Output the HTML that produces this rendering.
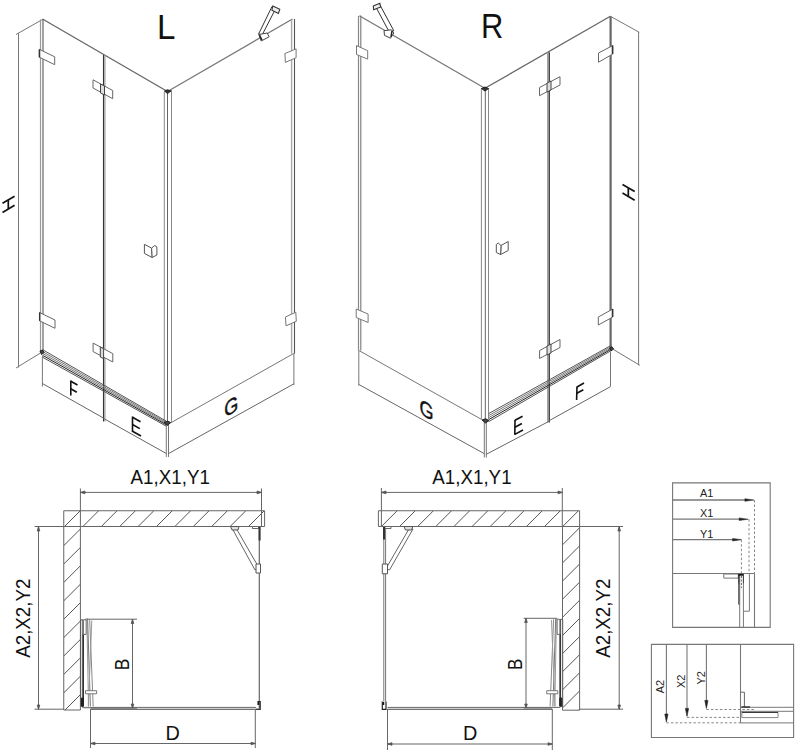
<!DOCTYPE html>
<html><head><meta charset="utf-8"><style>
html,body{margin:0;padding:0;background:#fff;}
body{width:800px;height:752px;overflow:hidden;}
svg{display:block;font-family:"Liberation Sans",sans-serif;}
</style></head><body>
<svg width="800" height="752" viewBox="0 0 800 752">
<rect width="800" height="752" fill="#fff"/>
<g id="Liso" fill="none" stroke-linecap="butt">
<line x1="18.5" y1="33" x2="18.5" y2="367.5" stroke="#777" stroke-width="1"/>
<line x1="16" y1="34.5" x2="42.5" y2="19.5" stroke="#777" stroke-width="1"/>
<line x1="16" y1="368" x2="40.5" y2="353" stroke="#777" stroke-width="1"/>
<line x1="40.5" y1="19.5" x2="40.5" y2="353" stroke="#999" stroke-width="1.2"/>
<line x1="43" y1="19" x2="43" y2="350" stroke="#666" stroke-width="1.2"/>
<line x1="42.5" y1="19" x2="167.5" y2="91.5" stroke="#666" stroke-width="1.3"/>
<line x1="103.6" y1="55" x2="103.6" y2="421.5" stroke="#333" stroke-width="1.3"/>
<line x1="105" y1="55" x2="105" y2="421.5" stroke="#999" stroke-width="1"/>
<line x1="164.3" y1="91.5" x2="164.3" y2="423" stroke="#888" stroke-width="1"/>
<line x1="167.5" y1="92" x2="167.5" y2="423" stroke="#666" stroke-width="1"/>
<line x1="171.5" y1="90" x2="171.5" y2="422" stroke="#888" stroke-width="1"/>
<line x1="167.5" y1="91.5" x2="292.5" y2="19" stroke="#777" stroke-width="1.3"/>
<line x1="291.6" y1="19.5" x2="291.6" y2="353.5" stroke="#aaa" stroke-width="1.4"/>
<line x1="294.5" y1="19" x2="294.5" y2="353.5" stroke="#555" stroke-width="1.1"/>
<line x1="293.9" y1="353" x2="293.9" y2="385" stroke="#777" stroke-width="1"/>
<line x1="168.7" y1="424" x2="293.9" y2="353.4" stroke="#777" stroke-width="1"/>
<line x1="42.5" y1="349.6" x2="166.3" y2="421.2" stroke="#555" stroke-width="1"/>
<line x1="42.5" y1="351.5" x2="166.3" y2="422.4" stroke="#777" stroke-width="1"/>
<line x1="42.5" y1="353.4" x2="166.3" y2="423.6" stroke="#777" stroke-width="1"/>
<line x1="42.5" y1="355.3" x2="166.3" y2="424.8" stroke="#222" stroke-width="1"/>
<line x1="42.5" y1="357.2" x2="166.3" y2="426.2" stroke="#555" stroke-width="1"/>
<line x1="42.4" y1="356" x2="42.4" y2="386.5" stroke="#777" stroke-width="1"/>
<line x1="42.4" y1="383.5" x2="104.3" y2="418.5" stroke="#666" stroke-width="1"/>
<line x1="104.3" y1="418.8" x2="166.3" y2="453.5" stroke="#666" stroke-width="1"/>
<line x1="166.3" y1="424.5" x2="166.3" y2="457" stroke="#777" stroke-width="1"/>
<line x1="168.5" y1="424.5" x2="168.5" y2="457" stroke="#777" stroke-width="1"/>
<line x1="168.7" y1="453.5" x2="293.9" y2="383.8" stroke="#666" stroke-width="1"/>
<path d="M39.3,49.3 L54.7,56.8 L54.7,64.7 L39.3,57.2 Z" stroke="#666" stroke-width="1" fill="#fff"/>
<line x1="39.5" y1="49.5" x2="39.5" y2="57.5" stroke="#333" stroke-width="1.5"/>
<path d="M39.5,312.5 L55,320 L55,328.3 L39.5,320.8 Z" stroke="#666" stroke-width="1" fill="#fff"/>
<line x1="39.7" y1="312.5" x2="39.7" y2="320.8" stroke="#333" stroke-width="1.5"/>
<path d="M93,79.8 L112.7,90.5 L112.7,98.7 L93,88 Z" stroke="#666" stroke-width="1" fill="#fff"/>
<path d="M100.5,84 L104.5,86 L104.5,95 L100.5,93 Z" stroke="#444" stroke-width="1" fill="#ddd"/>
<path d="M93.1,343.1 L112.8,353.6 L112.8,362 L93.1,351.6 Z" stroke="#666" stroke-width="1" fill="#fff"/>
<path d="M100.3,347 L103.6,348.7 L103.6,358.6 L100.3,357 Z" stroke="#444" stroke-width="1" fill="#ddd"/>
<path d="M284.9,53.5 L296.1,48.9 L296.1,57.7 L285.4,62.4 Z" stroke="#777" stroke-width="1" fill="#fff"/>
<path d="M285.4,317 L295.8,312.2 L296.3,321.3 L286,325.8 Z" stroke="#777" stroke-width="1" fill="#fff"/>
<path d="M144.4,244.3 L151.6,248.1 L152.2,257.5 L144.4,253.4 Z" stroke="#555" stroke-width="1" fill="#fff"/>
<path d="M151.6,248.1 L154.7,245.5 L156.9,246.9 L156.9,255 L152.2,257.5 Z" stroke="#555" stroke-width="1" fill="#fff"/>
<path d="M258.6,34 L272,6.5 L275.6,8.8 L262.1,35 Z" stroke="#333" stroke-width="1" fill="#fff"/>
<path d="M272.8,6 L279.8,9.3 L278.4,13.5 L271.9,10.2 Z" stroke="#333" stroke-width="1.1" fill="#eee"/>
<path d="M258.8,34.5 L267.2,33 L269.1,36.8 L261.2,41 Z" stroke="#444" stroke-width="1" fill="#fff"/>
<line x1="259.5" y1="35" x2="262" y2="40" stroke="#222" stroke-width="1.5"/>
<path d="M164.5,91 L167.5,89.8 L171,91 L167.5,93.5 Z" stroke="#222" stroke-width="1" fill="#333"/>
<path d="M164,422.5 L167.5,421 L170.5,422.5 L167.5,425.5 Z" stroke="#222" stroke-width="1" fill="#444"/>
<path d="M40,351 L42.5,350 L44,352.5 L41.5,354.5 Z" stroke="#222" stroke-width="1" fill="#444"/>
</g>
<g fill="#111" font-family="'Liberation Sans', sans-serif">
<text x="0" y="0" font-size="36" text-anchor="start" transform="matrix(0.92,0,0,1,157.1,38.8)">L</text>
</g>
<g stroke="#111" stroke-width="1.5" fill="none" stroke-linecap="butt">
<line x1="2.5" y1="203.3" x2="14.6" y2="196.2" stroke="#111" stroke-width="1.7"/>
<line x1="2.5" y1="212.4" x2="14.6" y2="205.3" stroke="#111" stroke-width="1.7"/>
<line x1="8.3" y1="199.8" x2="8.3" y2="208.8" stroke="#111" stroke-width="1.7"/>
</g>
<g stroke="#111" stroke-width="1.6" fill="none">
<line x1="70.8" y1="380.5" x2="70.8" y2="395.5" stroke="#111" stroke-width="1.6"/>
<line x1="70.8" y1="381.2" x2="77.5" y2="385" stroke="#111" stroke-width="1.6"/>
<line x1="70.8" y1="388.8" x2="76.8" y2="392.2" stroke="#111" stroke-width="1.6"/>
<line x1="132.5" y1="416.5" x2="132.5" y2="432" stroke="#111" stroke-width="1.6"/>
<line x1="132.5" y1="417.2" x2="140.5" y2="421.7" stroke="#111" stroke-width="1.6"/>
<line x1="132.5" y1="424.5" x2="139.8" y2="428.6" stroke="#111" stroke-width="1.6"/>
<line x1="132.5" y1="431.3" x2="141" y2="436" stroke="#111" stroke-width="1.6"/>
</g>
<g fill="#111" font-family="'Liberation Sans', sans-serif">
<text x="0" y="0" font-size="22" text-anchor="start" transform="matrix(0.82,-0.45,0,1,224.2,417.7)" stroke="#111" stroke-width="0.45">G</text>
</g>
<g id="Riso" fill="none">
<line x1="358.5" y1="16" x2="358.5" y2="350.5" stroke="#888" stroke-width="1.2"/>
<line x1="360.8" y1="15.5" x2="360.8" y2="350.5" stroke="#777" stroke-width="1.1"/>
<line x1="358.8" y1="350.5" x2="358.8" y2="385.5" stroke="#777" stroke-width="1"/>
<line x1="359.3" y1="15.8" x2="484.9" y2="88.3" stroke="#777" stroke-width="1.3"/>
<line x1="481.4" y1="88" x2="481.4" y2="419.5" stroke="#888" stroke-width="1"/>
<line x1="485.3" y1="88.5" x2="485.3" y2="420" stroke="#666" stroke-width="1"/>
<line x1="488.5" y1="88" x2="488.5" y2="419" stroke="#888" stroke-width="1"/>
<line x1="484.3" y1="421" x2="484.3" y2="457.5" stroke="#777" stroke-width="1"/>
<line x1="486.3" y1="421" x2="486.3" y2="457.5" stroke="#777" stroke-width="1"/>
<line x1="484.9" y1="88.3" x2="610.4" y2="16.3" stroke="#666" stroke-width="1.3"/>
<line x1="547.6" y1="52.2" x2="547.6" y2="422.5" stroke="#999" stroke-width="1"/>
<line x1="549.2" y1="52.2" x2="549.2" y2="422.5" stroke="#333" stroke-width="1.4"/>
<line x1="610.6" y1="16.3" x2="610.6" y2="349" stroke="#666" stroke-width="2.2"/>
<line x1="610.4" y1="16.3" x2="639.2" y2="32.3" stroke="#777" stroke-width="1"/>
<line x1="638.6" y1="32" x2="638.6" y2="365.3" stroke="#777" stroke-width="1"/>
<line x1="611.6" y1="348.4" x2="639.8" y2="365.3" stroke="#777" stroke-width="1"/>
<line x1="359.1" y1="350.6" x2="481.5" y2="419.4" stroke="#777" stroke-width="1"/>
<line x1="488.7" y1="413.6" x2="611.5" y2="345.2" stroke="#555" stroke-width="1"/>
<line x1="488.7" y1="415.6" x2="611.5" y2="346.5" stroke="#777" stroke-width="1"/>
<line x1="488.7" y1="417.6" x2="611.5" y2="347.8" stroke="#777" stroke-width="1"/>
<line x1="488.7" y1="419.6" x2="611.5" y2="349.0" stroke="#222" stroke-width="1"/>
<line x1="488.7" y1="421.6" x2="611.5" y2="350.4" stroke="#555" stroke-width="1"/>
<line x1="358.7" y1="384.4" x2="484" y2="453.5" stroke="#666" stroke-width="1"/>
<line x1="486.3" y1="454.3" x2="548.6" y2="421.5" stroke="#666" stroke-width="1"/>
<line x1="548.6" y1="421" x2="610.5" y2="386.6" stroke="#666" stroke-width="1"/>
<line x1="610.5" y1="351.8" x2="610.5" y2="386.6" stroke="#777" stroke-width="1"/>
<path d="M356.5,45.6 L367.7,50.7 L367.7,59.1 L356.5,54.5 Z" stroke="#777" stroke-width="1" fill="#fff"/>
<path d="M356.2,309 L368.1,314 L368.1,322.5 L356.2,317.5 Z" stroke="#777" stroke-width="1" fill="#fff"/>
<path d="M598.5,53 L612.8,45.5 L612.8,54 L598.5,62.2 Z" stroke="#666" stroke-width="1" fill="#fff"/>
<line x1="612.5" y1="45.5" x2="612.5" y2="54" stroke="#333" stroke-width="1.5"/>
<path d="M598.3,317 L612.8,309 L612.8,317 L598.3,325 Z" stroke="#666" stroke-width="1" fill="#fff"/>
<line x1="612.5" y1="309" x2="612.5" y2="317" stroke="#333" stroke-width="1.5"/>
<path d="M539.5,87.5 L560,76.7 L560,85 L539.5,95.7 Z" stroke="#666" stroke-width="1" fill="#fff"/>
<path d="M547,83 L551,81 L551,90 L547,92 Z" stroke="#444" stroke-width="1" fill="#ddd"/>
<path d="M539.6,350.5 L560,339.5 L560,347.5 L539.6,358.5 Z" stroke="#666" stroke-width="1" fill="#fff"/>
<path d="M547,346 L551,344 L551,353 L547,355 Z" stroke="#444" stroke-width="1" fill="#ddd"/>
<path d="M508.2,241.5 L501,245.5 L500.6,254.5 L508.2,250.5 Z" stroke="#555" stroke-width="1" fill="#fff"/>
<path d="M501,245.5 L498.2,243 L496.3,244.5 L496.3,252.5 L500.6,254.5 Z" stroke="#555" stroke-width="1" fill="#fff"/>
<path d="M375.1,5.6 L379.8,4.7 L393.8,30.7 L389.1,31.7 Z" stroke="#333" stroke-width="1" fill="#fff"/>
<path d="M373.3,6 L379.8,3.3 L380.7,7 L373.7,9.8 Z" stroke="#333" stroke-width="1.1" fill="#eee"/>
<path d="M384,30.7 L391.4,29.8 L393.8,33 L390.5,38.2 L384.5,35.4 Z" stroke="#444" stroke-width="1" fill="#fff"/>
<line x1="392" y1="31" x2="391" y2="37" stroke="#222" stroke-width="1.5"/>
<path d="M481.5,88.5 L485,87 L488.5,88.5 L485,91 Z" stroke="#222" stroke-width="1" fill="#333"/>
<path d="M482,420 L485.5,418.8 L489,420.5 L485.5,423 Z" stroke="#222" stroke-width="1" fill="#444"/>
<path d="M609.5,348 L612,346.8 L613.5,349 L611,351 Z" stroke="#222" stroke-width="1" fill="#444"/>
</g>
<g fill="#111" font-family="'Liberation Sans', sans-serif">
<text x="0" y="0" font-size="35.5" text-anchor="start" transform="matrix(0.87,0,0,1,481,37.5)">R</text>
</g>
<g stroke="#111" stroke-width="1.5" fill="none">
<line x1="622.5" y1="184.4" x2="634.7" y2="191.5" stroke="#111" stroke-width="1.7"/>
<line x1="622.5" y1="193.1" x2="634.7" y2="200.3" stroke="#111" stroke-width="1.7"/>
<line x1="628.3" y1="188.2" x2="628.3" y2="196.2" stroke="#111" stroke-width="1.7"/>
<line x1="515" y1="420" x2="514.8" y2="434.8" stroke="#111" stroke-width="1.6"/>
<line x1="515" y1="420.3" x2="522.6" y2="416.2" stroke="#111" stroke-width="1.6"/>
<line x1="514.9" y1="427.3" x2="521.9" y2="423.5" stroke="#111" stroke-width="1.6"/>
<line x1="514.8" y1="434.4" x2="523" y2="430" stroke="#111" stroke-width="1.6"/>
<line x1="577" y1="386.6" x2="576.6" y2="399.9" stroke="#111" stroke-width="1.6"/>
<line x1="577" y1="387" x2="584" y2="383" stroke="#111" stroke-width="1.6"/>
<line x1="576.9" y1="393.3" x2="583.3" y2="389.7" stroke="#111" stroke-width="1.6"/>
</g>
<g fill="#111" font-family="'Liberation Sans', sans-serif">
<text x="0" y="0" font-size="22" text-anchor="start" transform="matrix(0.82,0.45,0,1,419.5,413.8)" stroke="#111" stroke-width="0.45">G</text>
</g>
<defs><clipPath id="cL"><rect x="63.75" y="510.75" width="201" height="15.75"/><rect x="63.75" y="510.75" width="16.65" height="199.25"/></clipPath><clipPath id="cR"><rect x="378.4" y="510.75" width="201.2" height="15.75"/><rect x="562.5" y="510.75" width="17.1" height="199.5"/></clipPath></defs>
<g clip-path="url(#cL)" stroke="#555" stroke-width="1"><line x1="-119" y1="710" x2="80.25" y2="510.75"/><line x1="-100.60000000000002" y1="710" x2="98.64999999999998" y2="510.75"/><line x1="-82.20000000000005" y1="710" x2="117.04999999999995" y2="510.75"/><line x1="-63.80000000000007" y1="710" x2="135.44999999999993" y2="510.75"/><line x1="-45.40000000000009" y1="710" x2="153.8499999999999" y2="510.75"/><line x1="-27.000000000000114" y1="710" x2="172.2499999999999" y2="510.75"/><line x1="-8.600000000000136" y1="710" x2="190.64999999999986" y2="510.75"/><line x1="9.79999999999984" y1="710" x2="209.04999999999984" y2="510.75"/><line x1="28.199999999999818" y1="710" x2="227.44999999999982" y2="510.75"/><line x1="46.599999999999795" y1="710" x2="245.8499999999998" y2="510.75"/><line x1="64.99999999999977" y1="710" x2="264.2499999999998" y2="510.75"/><line x1="83.39999999999975" y1="710" x2="282.64999999999975" y2="510.75"/><line x1="101.79999999999973" y1="710" x2="301.0499999999997" y2="510.75"/><line x1="120.1999999999997" y1="710" x2="319.4499999999997" y2="510.75"/><line x1="138.59999999999968" y1="710" x2="337.8499999999997" y2="510.75"/><line x1="156.99999999999966" y1="710" x2="356.24999999999966" y2="510.75"/><line x1="175.39999999999964" y1="710" x2="374.64999999999964" y2="510.75"/><line x1="193.7999999999996" y1="710" x2="393.0499999999996" y2="510.75"/><line x1="212.1999999999996" y1="710" x2="411.4499999999996" y2="510.75"/><line x1="230.59999999999957" y1="710" x2="429.84999999999957" y2="510.75"/><line x1="248.99999999999955" y1="710" x2="448.24999999999955" y2="510.75"/></g>
<g clip-path="url(#cR)" stroke="#555" stroke-width="1"><line x1="197.69999999999993" y1="710.2" x2="397.15" y2="510.75"/><line x1="215.82999999999993" y1="710.2" x2="415.28" y2="510.75"/><line x1="233.95999999999992" y1="710.2" x2="433.40999999999997" y2="510.75"/><line x1="252.08999999999992" y1="710.2" x2="451.53999999999996" y2="510.75"/><line x1="270.2199999999999" y1="710.2" x2="469.66999999999996" y2="510.75"/><line x1="288.3499999999999" y1="710.2" x2="487.79999999999995" y2="510.75"/><line x1="306.4799999999999" y1="710.2" x2="505.92999999999995" y2="510.75"/><line x1="324.6099999999999" y1="710.2" x2="524.06" y2="510.75"/><line x1="342.74" y1="710.2" x2="542.19" y2="510.75"/><line x1="360.8700000000001" y1="710.2" x2="560.3200000000002" y2="510.75"/><line x1="379.0000000000002" y1="710.2" x2="578.4500000000003" y2="510.75"/><line x1="397.13000000000034" y1="710.2" x2="596.5800000000004" y2="510.75"/><line x1="415.26000000000045" y1="710.2" x2="614.7100000000005" y2="510.75"/><line x1="433.39000000000055" y1="710.2" x2="632.8400000000006" y2="510.75"/><line x1="451.52000000000066" y1="710.2" x2="650.9700000000007" y2="510.75"/><line x1="469.6500000000008" y1="710.2" x2="669.1000000000008" y2="510.75"/><line x1="487.7800000000009" y1="710.2" x2="687.2300000000009" y2="510.75"/><line x1="505.910000000001" y1="710.2" x2="705.360000000001" y2="510.75"/><line x1="524.0400000000011" y1="710.2" x2="723.4900000000011" y2="510.75"/><line x1="542.1700000000012" y1="710.2" x2="741.6200000000013" y2="510.75"/><line x1="560.3000000000013" y1="710.2" x2="759.7500000000014" y2="510.75"/><line x1="578.4300000000014" y1="710.2" x2="777.8800000000015" y2="510.75"/></g>
<g fill="none">
<path d="M63.75,710 L63.75,510.75 L264.6,510.75 L264.6,526.5 L80.4,526.5 L80.4,710" stroke="#666" stroke-width="1" fill="none"/>
<line x1="63.75" y1="710" x2="80.4" y2="710" stroke="#666" stroke-width="1"/>
<line x1="63.75" y1="526.5" x2="80.4" y2="526.5" stroke="#666" stroke-width="1"/>
<line x1="80.4" y1="492.4" x2="261.5" y2="492.4" stroke="#666" stroke-width="1"/>
<line x1="80.4" y1="488.5" x2="80.4" y2="526.5" stroke="#666" stroke-width="1"/>
<line x1="261.5" y1="488.5" x2="261.5" y2="526.5" stroke="#666" stroke-width="1"/>
<path d="M80.4,492.4 L85,491 L85,493.8 Z" stroke="#555" stroke-width="0.8" fill="#555"/>
<path d="M261.5,492.4 L257,491 L257,493.8 Z" stroke="#555" stroke-width="0.8" fill="#555"/>
<line x1="34.5" y1="526.5" x2="63.75" y2="526.5" stroke="#666" stroke-width="1"/>
<line x1="34.5" y1="709.2" x2="63.75" y2="709.2" stroke="#666" stroke-width="1"/>
<line x1="38.5" y1="526.5" x2="38.5" y2="709.2" stroke="#666" stroke-width="1"/>
<path d="M38.5,526.5 L37.2,531 L39.8,531 Z" stroke="#555" stroke-width="0.8" fill="#555"/>
<path d="M38.5,709.2 L37.2,705 L39.8,705 Z" stroke="#555" stroke-width="0.8" fill="#555"/>
<line x1="259.3" y1="526.5" x2="259.3" y2="708.5" stroke="#666" stroke-width="1.2"/>
<path d="M252.4,526.5 L258.5,526.5 L258.5,528.5 L252.4,528.5 Z" stroke="#666" stroke-width="1" fill="#fff"/>
<line x1="259.6" y1="527" x2="259.6" y2="540.5" stroke="#333" stroke-width="2"/>
<path d="M232.5,529 L236,528 L258.5,567 L255,570 Z" stroke="#666" stroke-width="1" fill="#fff"/>
<path d="M230.5,526.5 L239,526.5 L238,530 L232,530 Z" stroke="#555" stroke-width="1" fill="#ddd"/>
<path d="M256,564 L260.5,564 L260.5,573 L256,573 Z" stroke="#555" stroke-width="1" fill="#fff"/>
<path d="M257.5,701.5 L260.2,701.5 L260.2,709.3 L256,709.3" stroke="#222" stroke-width="1.2" fill="none"/>
<line x1="258.2" y1="702" x2="258.2" y2="705" stroke="#111" stroke-width="1.5"/>
<line x1="82.3" y1="707.4" x2="256" y2="707.4" stroke="#666" stroke-width="1"/>
<line x1="90.5" y1="709.3" x2="260" y2="709.3" stroke="#444" stroke-width="1.1"/>
<line x1="85" y1="619.2" x2="137" y2="619.2" stroke="#666" stroke-width="1"/>
<line x1="90.5" y1="708.2" x2="137" y2="708.2" stroke="#666" stroke-width="1"/>
<line x1="132.5" y1="619.2" x2="132.5" y2="708.2" stroke="#666" stroke-width="1"/>
<path d="M132.5,619.2 L131.2,623.5 L133.8,623.5 Z" stroke="#555" stroke-width="0.8" fill="#555"/>
<path d="M132.5,708.2 L131.2,704 L133.8,704 Z" stroke="#555" stroke-width="0.8" fill="#555"/>
<line x1="90.5" y1="709" x2="90.5" y2="748" stroke="#666" stroke-width="1"/>
<line x1="255.3" y1="709.5" x2="255.3" y2="748" stroke="#666" stroke-width="1"/>
<line x1="90.5" y1="743.5" x2="255.3" y2="743.5" stroke="#666" stroke-width="1"/>
<path d="M90.5,743.5 L95,742.2 L95,744.8 Z" stroke="#555" stroke-width="0.8" fill="#555"/>
<path d="M255.3,743.5 L251,742.2 L251,744.8 Z" stroke="#555" stroke-width="0.8" fill="#555"/>
<path d="M80.6,619.8 L82.8,619.8 L82.8,706.4 L80.6,706.4 Z" stroke="#555" stroke-width="1" fill="#eee"/>
<line x1="83.3" y1="634" x2="83.3" y2="706.4" stroke="#222" stroke-width="1.2"/>
<path d="M83.4,619.8 L86.2,619.8 L86.2,634.4 L83.4,634.4 Z" stroke="#666" stroke-width="1" fill="#fff"/>
<line x1="86.9" y1="619.8" x2="88.5" y2="706.4" stroke="#999" stroke-width="1"/>
<line x1="87.6" y1="618.4" x2="90.4" y2="706.4" stroke="#777" stroke-width="1"/>
<line x1="89.7" y1="619.8" x2="93.2" y2="706.4" stroke="#888" stroke-width="1"/>
<line x1="91.8" y1="620.5" x2="88.3" y2="706.4" stroke="#999" stroke-width="1"/>
<path d="M85.5,690.7 L96.6,690.7 L96.6,693.8 L85.5,693.8 Z" stroke="#777" stroke-width="1" fill="#fff"/>
<line x1="82.7" y1="707.8" x2="90.4" y2="707.8" stroke="#888" stroke-width="1"/>
<path d="M81.5,698 L83.5,698 L83.5,706 L81.5,706 Z" stroke="#222" stroke-width="1" fill="#222"/>
</g>
<g fill="#111" font-family="'Liberation Sans', sans-serif">
<text x="0" y="0" font-size="20.4" text-anchor="start" transform="matrix(0.92,0,0,1,130.6,483.75)">A1,X1,Y1</text>
<text x="0" y="0" font-size="20.4" text-anchor="start" transform="matrix(0,-0.92,1,0,30,657.8)">A2,X2,Y2</text>
<text x="0" y="0" font-size="20.5" text-anchor="start" transform="matrix(0,-0.85,1,0,128.5,670.2)">B</text>
<text x="0" y="0" font-size="20.7" text-anchor="start" transform="matrix(0.96,0,0,1,165.6,740)">D</text>
</g>
<g fill="none">
<path d="M579.6,710.2 L579.6,510.75 L378.4,510.75 L378.4,526.5 L562.5,526.5 L562.5,710.2" stroke="#666" stroke-width="1" fill="none"/>
<line x1="562.5" y1="710.2" x2="579.6" y2="710.2" stroke="#666" stroke-width="1"/>
<line x1="562.5" y1="526.5" x2="579.6" y2="526.5" stroke="#666" stroke-width="1"/>
<line x1="381.4" y1="492.4" x2="562.3" y2="492.4" stroke="#666" stroke-width="1"/>
<line x1="381.4" y1="488" x2="381.4" y2="526.5" stroke="#666" stroke-width="1"/>
<line x1="562.3" y1="488" x2="562.3" y2="526.5" stroke="#666" stroke-width="1"/>
<path d="M381.4,492.4 L386,491 L386,493.8 Z" stroke="#555" stroke-width="0.8" fill="#555"/>
<path d="M562.3,492.4 L558,491 L558,493.8 Z" stroke="#555" stroke-width="0.8" fill="#555"/>
<line x1="579.6" y1="526.5" x2="623" y2="526.5" stroke="#666" stroke-width="1"/>
<line x1="579.6" y1="709.2" x2="623" y2="709.2" stroke="#666" stroke-width="1"/>
<line x1="619.2" y1="526.5" x2="619.2" y2="709.2" stroke="#666" stroke-width="1"/>
<path d="M619.2,526.5 L617.9,531 L620.5,531 Z" stroke="#555" stroke-width="0.8" fill="#555"/>
<path d="M619.2,709.2 L617.9,705 L620.5,705 Z" stroke="#555" stroke-width="0.8" fill="#555"/>
<line x1="383.8" y1="526.5" x2="383.8" y2="701.5" stroke="#777" stroke-width="1"/>
<line x1="385.6" y1="526.5" x2="385.6" y2="701.5" stroke="#777" stroke-width="1"/>
<path d="M385,526.5 L391,526.5 L391,528.5 L385,528.5 Z" stroke="#666" stroke-width="1" fill="#fff"/>
<line x1="384" y1="527" x2="384" y2="539.6" stroke="#333" stroke-width="2"/>
<path d="M409.5,528 L413,529 L389.5,570 L386,568.5 Z" stroke="#666" stroke-width="1" fill="#fff"/>
<path d="M404,526.5 L412.9,526.5 L411.5,530 L405.5,530 Z" stroke="#555" stroke-width="1" fill="#ddd"/>
<path d="M382.3,564 L387.5,564 L387.5,573.8 L382.3,573.8 Z" stroke="#555" stroke-width="1" fill="#fff"/>
<path d="M382.3,701.5 L382.3,709.3 L386,709.3 L386,701.5" stroke="#222" stroke-width="1.2" fill="none"/>
<line x1="383.5" y1="702" x2="383.5" y2="705" stroke="#111" stroke-width="1.5"/>
<line x1="387.5" y1="707.4" x2="560.3" y2="707.4" stroke="#666" stroke-width="1"/>
<line x1="387.5" y1="709.3" x2="552.3" y2="709.3" stroke="#444" stroke-width="1.1"/>
<line x1="523.6" y1="618.3" x2="557.3" y2="618.3" stroke="#666" stroke-width="1"/>
<line x1="523.6" y1="708" x2="552" y2="708" stroke="#666" stroke-width="1"/>
<line x1="526" y1="618.3" x2="526" y2="708" stroke="#666" stroke-width="1"/>
<path d="M526,618.3 L524.7,622.5 L527.3,622.5 Z" stroke="#555" stroke-width="0.8" fill="#555"/>
<path d="M526,708 L524.7,704 L527.3,704 Z" stroke="#555" stroke-width="0.8" fill="#555"/>
<line x1="387.5" y1="709" x2="387.5" y2="750" stroke="#666" stroke-width="1"/>
<line x1="552.3" y1="709" x2="552.3" y2="750" stroke="#666" stroke-width="1"/>
<line x1="387.5" y1="744" x2="552.3" y2="744" stroke="#666" stroke-width="1"/>
<path d="M387.5,744 L392,742.7 L392,745.3 Z" stroke="#555" stroke-width="0.8" fill="#555"/>
<path d="M552.3,744 L548,742.7 L548,745.3 Z" stroke="#555" stroke-width="0.8" fill="#555"/>
<path d="M560.5,619.3 L562.7,619.3 L562.7,706.4 L560.5,706.4 Z" stroke="#555" stroke-width="1" fill="#eee"/>
<line x1="560" y1="634" x2="560" y2="706.4" stroke="#222" stroke-width="1.2"/>
<path d="M557.1,619.3 L559.9,619.3 L559.9,634.4 L557.1,634.4 Z" stroke="#666" stroke-width="1" fill="#fff"/>
<line x1="556.4" y1="619.3" x2="554.8" y2="706.4" stroke="#999" stroke-width="1"/>
<line x1="555.7" y1="618.4" x2="552.9" y2="706.4" stroke="#777" stroke-width="1"/>
<line x1="553.6" y1="619.3" x2="550.1" y2="706.4" stroke="#888" stroke-width="1"/>
<line x1="551.5" y1="620" x2="555" y2="706.4" stroke="#999" stroke-width="1"/>
<path d="M546.7,690.7 L557.8,690.7 L557.8,693.8 L546.7,693.8 Z" stroke="#777" stroke-width="1" fill="#fff"/>
<path d="M559.8,698 L561.8,698 L561.8,706 L559.8,706 Z" stroke="#222" stroke-width="1" fill="#222"/>
</g>
<g fill="#111" font-family="'Liberation Sans', sans-serif">
<text x="0" y="0" font-size="20.4" text-anchor="start" transform="matrix(0.92,0,0,1,432.3,483.6)">A1,X1,Y1</text>
<text x="0" y="0" font-size="20.4" text-anchor="start" transform="matrix(0,-0.92,1,0,610.3,657.8)">A2,X2,Y2</text>
<text x="0" y="0" font-size="20" text-anchor="start" transform="matrix(0,-0.85,1,0,521.9,670)">B</text>
<text x="0" y="0" font-size="20.7" text-anchor="start" transform="matrix(0.96,0,0,1,463.1,740)">D</text>
</g>
<g fill="none">
<path d="M672.6,482.9 L770.2,482.9 L770.2,627.4 L672.6,627.4 Z" stroke="#777" stroke-width="1.1" fill="none"/>
<line x1="672.6" y1="500" x2="746.9" y2="500" stroke="#777" stroke-width="1.3"/>
<path d="M753.9,500 L744.9,498.7 L744.9,501.3 Z" stroke="#222" stroke-width="0.5" fill="#222"/>
<line x1="754.5" y1="500" x2="754.5" y2="573.5" stroke="#888" stroke-width="1" stroke-dasharray="2.5,2"/>
<line x1="672.6" y1="519.2" x2="741.2" y2="519.2" stroke="#777" stroke-width="1.3"/>
<path d="M748.2,519.2 L739.2,517.9000000000001 L739.2,520.5 Z" stroke="#222" stroke-width="0.5" fill="#222"/>
<line x1="749" y1="519.2" x2="749" y2="573.5" stroke="#888" stroke-width="1" stroke-dasharray="2.5,2"/>
<line x1="672.6" y1="539.7" x2="734.6" y2="539.7" stroke="#777" stroke-width="1.3"/>
<path d="M741.6,539.7 L732.6,538.4000000000001 L732.6,541.0 Z" stroke="#222" stroke-width="0.5" fill="#222"/>
<line x1="741.4" y1="539.7" x2="741.4" y2="573.5" stroke="#888" stroke-width="1" stroke-dasharray="2.5,2"/>
<line x1="672.6" y1="573.5" x2="754.5" y2="573.5" stroke="#777" stroke-width="1.1"/>
<line x1="754.5" y1="573.5" x2="754.5" y2="627.4" stroke="#777" stroke-width="1.1"/>
<path d="M723.8,574 L738.3,574 L738.3,578.1 L723.8,578.1 Z" stroke="#777" stroke-width="1" fill="#fff"/>
<line x1="739.7" y1="574.5" x2="739.7" y2="627.4" stroke="#777" stroke-width="1"/>
<line x1="743.4" y1="574.5" x2="743.4" y2="627.4" stroke="#777" stroke-width="1"/>
<line x1="738.3" y1="574.8" x2="743.8" y2="574.8" stroke="#111" stroke-width="1.8"/>
<line x1="738.8" y1="574" x2="738.8" y2="583.3" stroke="#222" stroke-width="1.2"/>
<line x1="743.4" y1="574" x2="743.4" y2="583.3" stroke="#444" stroke-width="1"/>
<line x1="741.4" y1="576" x2="741.4" y2="588" stroke="#666" stroke-width="1" stroke-dasharray="2,1.5"/>
<line x1="738.8" y1="583" x2="738.8" y2="604.6" stroke="#333" stroke-width="1"/>
<path d="M749.4,573.5 L749.4,611.2 L743.8,611.2" stroke="#777" stroke-width="1" fill="none"/>
</g>
<g fill="#222" font-family="'Liberation Sans', sans-serif">
<text x="700" y="496.9" font-size="10.9" text-anchor="start">A1</text>
<text x="700" y="516.6" font-size="10.9" text-anchor="start">X1</text>
<text x="700" y="537.6" font-size="10.9" text-anchor="start">Y1</text>
</g>
<g fill="none">
<path d="M651.4,644.4 L793.6,644.4 L793.6,737.5 L651.4,737.5 Z" stroke="#777" stroke-width="1.1" fill="none"/>
<line x1="666.4" y1="644.4" x2="666.4" y2="715" stroke="#777" stroke-width="1.1"/>
<path d="M666.4,722 L664.8,714 L668.0,714 Z" stroke="#222" stroke-width="0.6" fill="#222"/>
<line x1="687" y1="644.4" x2="687" y2="709.4" stroke="#777" stroke-width="1.1"/>
<path d="M687,716.4 L685.4,708.4 L688.6,708.4 Z" stroke="#222" stroke-width="0.6" fill="#222"/>
<line x1="706.4" y1="644.4" x2="706.4" y2="701.4" stroke="#777" stroke-width="1.1"/>
<path d="M706.4,708.4 L704.8,700.4 L708.0,700.4 Z" stroke="#222" stroke-width="0.6" fill="#222"/>
<line x1="666.4" y1="722.8" x2="740.5" y2="722.8" stroke="#888" stroke-width="1" stroke-dasharray="2.5,2"/>
<line x1="687" y1="717.4" x2="740.5" y2="717.4" stroke="#888" stroke-width="1" stroke-dasharray="2.5,2"/>
<line x1="706.4" y1="709.5" x2="755" y2="709.5" stroke="#888" stroke-width="1" stroke-dasharray="2.5,2"/>
<line x1="740.5" y1="644.4" x2="740.5" y2="722.9" stroke="#777" stroke-width="1.1"/>
<line x1="740.5" y1="707.3" x2="793.6" y2="707.3" stroke="#777" stroke-width="1"/>
<line x1="740.5" y1="711.3" x2="793.6" y2="711.3" stroke="#777" stroke-width="1"/>
<line x1="740.5" y1="722.9" x2="793.6" y2="722.9" stroke="#777" stroke-width="1"/>
<path d="M740.5,692.2 L744.4,692.2 L744.4,707.1" stroke="#666" stroke-width="1" fill="none"/>
<path d="M741.8,712.4 L778,712.4 L778,717.6 L741.8,717.6 Z" stroke="#888" stroke-width="1" fill="none"/>
<line x1="741.8" y1="712.4" x2="778" y2="712.4" stroke="#333" stroke-width="1"/>
<line x1="741.5" y1="707" x2="750" y2="707" stroke="#222" stroke-width="1.3"/>
</g>
<g fill="#222" font-family="'Liberation Sans', sans-serif">
<text x="0" y="0" font-size="10.9" text-anchor="start" transform="matrix(0,-1,1,0,664.2,693.2)">A2</text>
<text x="0" y="0" font-size="10.9" text-anchor="start" transform="matrix(0,-1,1,0,685,687.9)">X2</text>
<text x="0" y="0" font-size="10.9" text-anchor="start" transform="matrix(0,-1,1,0,705,684.5)">Y2</text>
</g>
</svg>
</body></html>
